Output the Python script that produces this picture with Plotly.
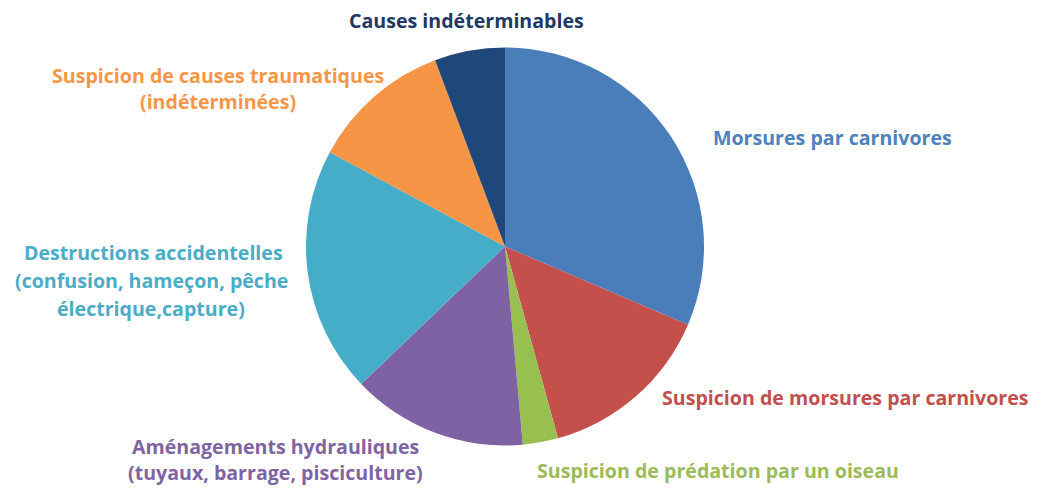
import plotly.graph_objects as go

categories = [
    "Morsures par carnivores",
    "Suspicion de morsures par carnivores",
    "Suspicion de prédation par un oiseau",
    "Aménagements hydrauliques (tuyaux, barrage, pisciculture)",
    "Destructions accidentelles (confusion, hameçon, pêche électrique,capture)",
    "Suspicion de causes traumatiques (indéterminées)",
    "Causes indéterminables",
]
values = [11, 5, 1, 5, 7, 4, 2]
slice_colors = ["#4A7EBB", "#C4504C", "#98C050", "#7F62A3", "#46ADC8", "#F69545", "#20477A"]
text_colors = ["#4F81BD", "#C0504D", "#9BBB59", "#8064A2", "#4BACC6", "#F79646", "#1F3864"]

# label lines per category (text, x px, y px) in reference picture pixels
label_lines = [
    [("Morsures par carnivores", 832, 137)],
    [("Suspicion de morsures par carnivores", 845, 397)],
    [("Suspicion de prédation par un oiseau", 718, 470)],
    [("Aménagements hydrauliques", 275, 446), ("(tuyaux, barrage, pisciculture)", 275, 472)],
    [("Destructions accidentelles", 153, 252), ("(confusion, hameçon, pêche", 151, 280), ("électrique,capture)", 151, 308)],
    [("Suspicion de causes traumatiques", 218, 75), ("(indéterminées)", 218, 102)],
    [("Causes indéterminables", 466, 20)],
]

OFF = 8  # page body margin of the browser
W, H = 1042 - OFF, 488 - OFF
cx, cy, r = 505 - OFF, 246.5 - OFF, 199

fig = go.Figure(go.Pie(
    labels=categories,
    values=values,
    sort=False,
    direction="clockwise",
    rotation=0,
    marker=dict(colors=slice_colors, line=dict(width=0)),
    textinfo="none",
    hoverinfo="label+value",
    domain=dict(x=[(cx - r) / W, (cx + r) / W], y=[1 - (cy + r) / H, 1 - (cy - r) / H]),
    showlegend=False,
))

annotations = []
for lines, col in zip(label_lines, text_colors):
    for txt, x, y in lines:
        annotations.append(dict(
            text=txt, x=(x - OFF) / W, y=1 - (y - OFF) / H, xref="paper", yref="paper",
            xanchor="center", yanchor="middle", showarrow=False,
            font=dict(family="Open Sans", size=19.6, color=col, weight="bold"),
        ))

fig.update_layout(
    width=W, height=H,
    margin=dict(l=0, r=0, t=0, b=0),
    paper_bgcolor="white",
    plot_bgcolor="white",
    annotations=annotations,
)

fig.write_html("out.html")
